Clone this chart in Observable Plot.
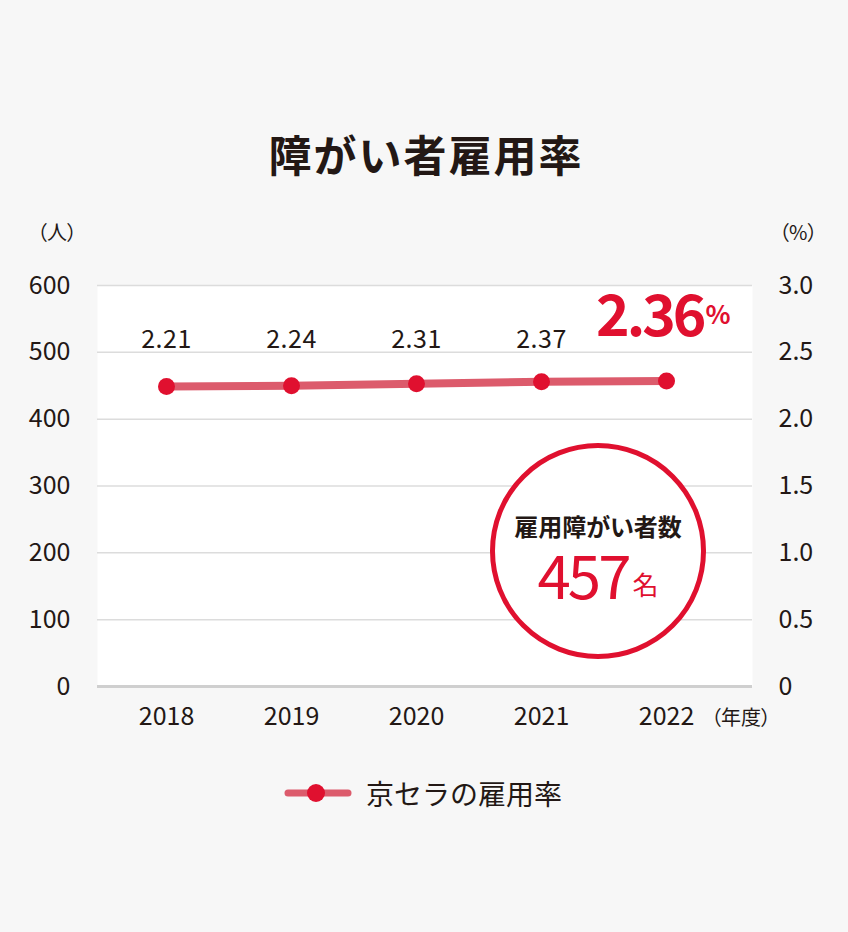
<!DOCTYPE html>
<html><head><meta charset="utf-8">
<script src="https://cdn.jsdelivr.net/npm/d3@7"></script>
<script src="https://cdn.jsdelivr.net/npm/@observablehq/plot@0.6"></script>
<style>
body{margin:0;background:#f7f7f7;font-family:"Noto Sans CJK JP","Noto Sans",sans-serif;color:#231815}
#wrap{position:relative;width:848px;height:932px;overflow:hidden}
#title{position:absolute;top:123px;left:0;width:848px;text-align:center;font-size:43px;font-weight:700;line-height:60px;letter-spacing:2px;padding-left:2px}
#chart{position:absolute;left:0;top:200px}
.unit{position:absolute;font-size:20px;line-height:24px;font-feature-settings:"palt"}
#badge{position:absolute;left:490px;top:443px;width:206px;height:206px;border:5px solid #e0102f;border-radius:50%;background:#fff;text-align:center}
#badge .t{position:absolute;left:0;width:206px;top:66px;font-size:24px;font-weight:700;line-height:24px;font-feature-settings:"palt"}
#badge .n{position:absolute;left:0;width:206px;top:100px;height:50px;line-height:50px;color:#e0102f;white-space:nowrap}
#badge .n .big{display:inline-block;height:50px;line-height:50px;font-size:60px;letter-spacing:-3px;vertical-align:top}
#badge .n .sm{display:inline-block;height:30px;line-height:30px;font-size:26px;margin-left:4px;vertical-align:top;margin-top:21px}
#legend{position:absolute;left:284px;top:773px;height:40px;display:flex;align-items:center}
#legend span{font-size:28px;margin-left:14px;line-height:40px}
</style></head>
<body><div id="wrap">
<div id="title">障がい者雇用率</div>
<div class="unit" style="left:37px;top:220px">（人）</div>
<div class="unit" style="left:779px;top:220px">（%）</div>
<div class="unit" style="left:711px;top:705px">（年度）</div>
<div id="chart"></div>
<div id="badge"><div class="t">雇用障がい者数</div><div class="n"><span class="big">457</span><span class="sm">名</span></div></div>
<div id="legend"><svg width="68" height="24"><line x1="4" y1="12" x2="64" y2="12" stroke="#dc5b6c" stroke-width="7" stroke-linecap="round"/><circle cx="32" cy="12" r="9" fill="#e0102f"/></svg><span>京セラの雇用率</span></div>
</div>
<script>
const years = ["2018", "2019", "2020", "2021", "2022"];
const employees = [449, 450, 453, 456, 457];
const rates = ["2.21", "2.24", "2.31", "2.37", "2.36"];
const leftTicks = [0, 100, 200, 300, 400, 500, 600];
const rightTickLabels = ["0", "0.5", "1.0", "1.5", "2.0", "2.5", "3.0"];

const data = years.map((y, i) => ({year: y, employees: employees[i], rate: rates[i]}));
const red = "#e0102f", pink = "#dc5b6c", ink = "#231815";

const chart = Plot.plot({
  width: 848, height: 550,
  marginTop: 85, marginBottom: 64, marginLeft: 97, marginRight: 96,
  style: {background: "transparent", fontFamily: '"Noto Sans CJK JP","Noto Sans",sans-serif', fontSize: "25px", color: ink},
  x: {type: "point", domain: years, range: [165, 666], padding: 0},
  y: {domain: [0, 600]},
  marks: [
    Plot.frame({fill: "#fff", stroke: null}),
    Plot.gridY(leftTicks.slice(1), {stroke: "#dcdcdc", strokeOpacity: 1, strokeWidth: 1.5}),
    Plot.ruleY([0], {stroke: "#cfcfcf", strokeWidth: 3}),
    Plot.axisY(leftTicks, {anchor: "left", tickSize: 0, tickPadding: 27, label: null, fontSize: 25, fill: ink}),
    Plot.axisY(leftTicks, {anchor: "right", tickSize: 0, tickPadding: 26, label: null, fontSize: 25, fill: ink,
      tickFormat: d => rightTickLabels[leftTicks.indexOf(d)]}),
    Plot.axisX({tickSize: 0, tickPadding: 21, label: null, fontSize: 25, fill: ink}),
    Plot.line(data, {x: "year", y: "employees", stroke: pink, strokeWidth: 8}),
    Plot.dot(data, {x: "year", y: "employees", r: 8.5, fill: red, stroke: null}),
    Plot.text(data.slice(0, 4), {x: "year", text: "rate", frameAnchor: "top", dy: 45, fontSize: 25, fill: ink}),
    Plot.text(data.slice(4), {x: "year", text: "rate", frameAnchor: "top", dy: 10, fontSize: 57, fontWeight: 700, fill: red, textAnchor: "end", dx: 37}),
    Plot.text(data.slice(4), {x: "year", text: () => "%", frameAnchor: "top", dy: 20, fontSize: 26, fontWeight: 700, fill: red, textAnchor: "start", dx: 39})
  ]
});
d3.select(chart).selectAll("text").filter(function() { return this.textContent === "2.36"; }).attr("letter-spacing", "-3px");
d3.select(chart).selectAll("text").filter(function() { return /^2\.\d\d$/.test(this.textContent) && this.textContent !== "2.36"; }).attr("letter-spacing", "0.5px");
document.getElementById("chart").appendChild(chart);
</script>
</body></html>
